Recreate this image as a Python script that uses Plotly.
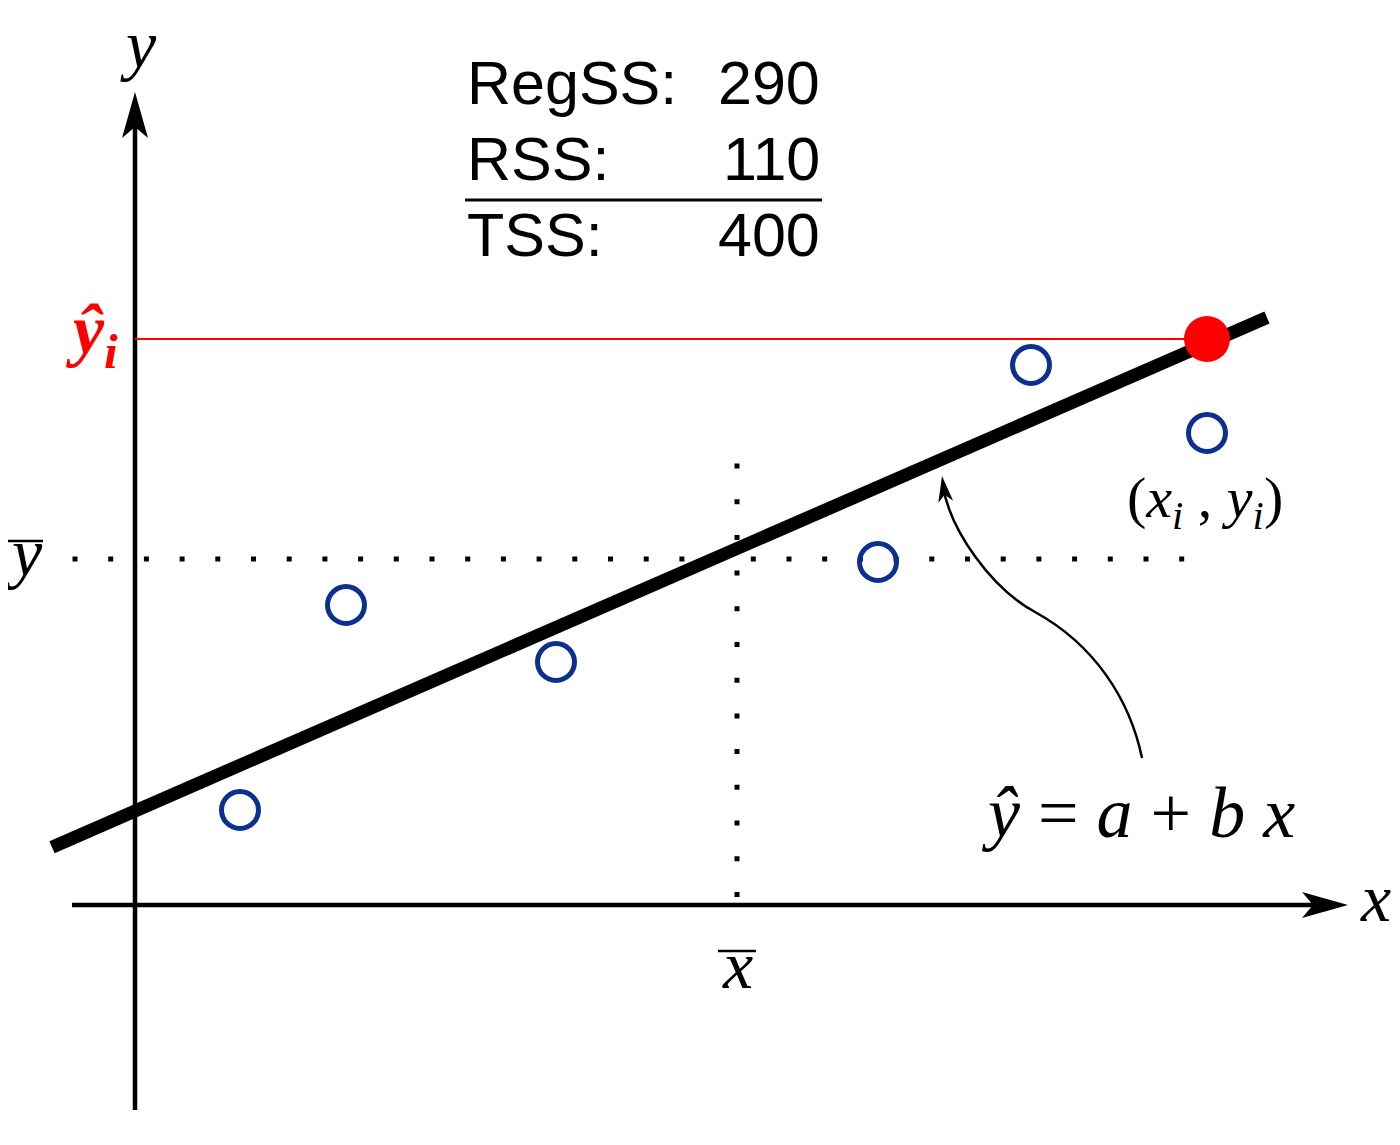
import plotly.graph_objects as go

# ---- data (diagram units) ----
x_obs = [1.05, 2.11, 4.21, 7.43, 8.96, 10.72]
y_obs = [0.95, 3.00, 2.43, 3.43, 5.40, 4.72]
a_intercept = 0.94
b_slope = 0.436
line_x = [-0.83, 11.32]
x_bar = 6.02
y_bar = 3.46
x_i = 10.72
yhat_i = 5.66
ss_labels = ["RegSS:", "RSS:", "TSS:"]
ss_values = [290, 110, 400]

SERIF = "Liberation Serif, Times New Roman, serif"
SANS = "Liberation Sans, Arial, sans-serif"
BLUE = "#0b3090"

fig = go.Figure()

# dotted mean lines
fig.add_trace(go.Scatter(x=[-0.625, 10.5], y=[y_bar, y_bar], mode="lines",
                         line=dict(color="black", width=5, dash="5px,30.7px"), hoverinfo="skip"))
fig.add_trace(go.Scatter(x=[x_bar, x_bar], y=[4.415, 0.0], mode="lines",
                         line=dict(color="black", width=5, dash="5px,30.7px"), hoverinfo="skip"))

# axes lines
fig.add_trace(go.Scatter(x=[-0.63, 11.80], y=[0, 0], mode="lines",
                         line=dict(color="black", width=4.5), hoverinfo="skip"))
fig.add_trace(go.Scatter(x=[0, 0], y=[-2.05, 7.80], mode="lines",
                         line=dict(color="black", width=4.5), hoverinfo="skip"))

# red fitted-value line
fig.add_trace(go.Scatter(x=[0, x_i], y=[yhat_i, yhat_i], mode="lines",
                         line=dict(color="#ff0000", width=2), hoverinfo="skip"))

# regression line
line_y = [a_intercept + b_slope * v for v in line_x]
fig.add_trace(go.Scatter(x=line_x, y=line_y, mode="lines",
                         line=dict(color="black", width=13), hoverinfo="skip"))

# observations
fig.add_trace(go.Scatter(x=x_obs, y=y_obs, mode="markers",
                         marker=dict(symbol="circle-open", size=37, color=BLUE,
                                     line=dict(width=5, color=BLUE)), hoverinfo="skip"))
# fitted point
fig.add_trace(go.Scatter(x=[x_i], y=[yhat_i], mode="markers",
                         marker=dict(symbol="circle", size=46, color="#ff0000"), hoverinfo="skip"))


def P(px, py):
    return ((px - 135) / 100, (905 - py) / 100)


# curved pointer (two cubic Bezier segments)
bez = [P(1142, 758), P(1130, 700), P(1095, 645), P(1035, 612),
       P(991, 588), P(950, 530), P(943, 486)]
curve_path = ("M{},{} C{},{} {},{} {},{} C{},{} {},{} {},{}".format(
    *[c for pt in bez for c in pt]))


def arrow_path(tip, direction, length, hw, notch):
    dx, dy = direction
    n = (dx * dx + dy * dy) ** 0.5
    ux, uy = dx / n, dy / n
    px_, py_ = -uy, ux
    tx, ty = tip
    bx, by = tx - length * ux, ty - length * uy
    l = (bx + hw * px_, by + hw * py_)
    r = (bx - hw * px_, by - hw * py_)
    m = (tx - (length - notch) * ux, ty - (length - notch) * uy)
    return f"M{tx},{ty} L{l[0]},{l[1]} L{m[0]},{m[1]} L{r[0]},{r[1]} Z"


shapes = []
shapes.append(dict(type="path", xref="x", yref="y", path=curve_path,
                   line=dict(color="black", width=2.5)))
# axis arrowheads
shapes.append(dict(type="path", xref="x", yref="y", path=arrow_path((12.13, 0), (1, 0), 0.46, 0.13, 0.11),
                   fillcolor="black", line=dict(width=0)))
shapes.append(dict(type="path", xref="x", yref="y", path=arrow_path((0, 8.13), (0, 1), 0.46, 0.13, 0.11),
                   fillcolor="black", line=dict(width=0)))
# pointer arrowhead
tip = P(942, 476)
shapes.append(dict(type="path", xref="x", yref="y",
                   path=arrow_path(tip, (-0.07, 0.48), 0.26, 0.075, 0.07),
                   fillcolor="black", line=dict(width=0)))
# bars over means
shapes.append(dict(type="line", xref="x", yref="y", x0=-1.30, x1=-0.92, y0=3.64, y1=3.64,
                   line=dict(color="black", width=2.5)))
shapes.append(dict(type="line", xref="x", yref="y", x0=x_bar - 0.19, x1=x_bar + 0.19, y0=-0.46, y1=-0.46,
                   line=dict(color="black", width=2.5)))
# table rule
shapes.append(dict(type="line", xref="x", yref="y", x0=3.30, x1=6.87, y0=7.05, y1=7.05,
                   line=dict(color="black", width=3)))

annotations = []


def txt(x, y, text, size, family=SERIF, color="black", xanchor="center"):
    annotations.append(dict(x=x, y=y, xref="x", yref="y", text=text, showarrow=False,
                            font=dict(family=family, size=size, color=color),
                            xanchor=xanchor, yanchor="middle"))


txt(0.03, 8.60, "<i>y</i>", 68)
txt(12.40, 0.07, "<i>x</i>", 68)
txt(-1.11, 3.52, "<i>y</i>", 68)
txt(x_bar, -0.60, "<i>x</i>", 68)
txt(-0.43, 5.70, "<b><i>ŷ<sub>i</sub></i></b>", 70, color="#ff0000")
txt(10.70, 4.04, "(<i>x<sub>i</sub></i> , <i>y<sub>i</sub></i>)", 58)
txt(10.03, 0.92, "<i>ŷ</i> = <i>a</i> + <i>b</i> <i>x</i>", 72)

row_y = [8.22, 7.46, 6.70]
for lab, val, yy in zip(ss_labels, ss_values, row_y):
    txt(3.30, yy, lab, 61, family=SANS, xanchor="left")
    txt(6.87, yy, str(val), 61, family=SANS, xanchor="right")

# the page body adds an 8px offset; shift ranges so pixels line up
OFF = 0.08
fig.update_layout(
    width=1400, height=1145,
    margin=dict(l=0, r=0, t=0, b=0),
    paper_bgcolor="white", plot_bgcolor="white",
    showlegend=False,
    xaxis=dict(range=[-1.35 + OFF, 12.65 + OFF], visible=False, fixedrange=True),
    yaxis=dict(range=[-2.40 - OFF, 9.05 - OFF], visible=False, fixedrange=True),
    shapes=shapes, annotations=annotations,
)

fig.write_html("out.html", config={"displayModeBar": False})
